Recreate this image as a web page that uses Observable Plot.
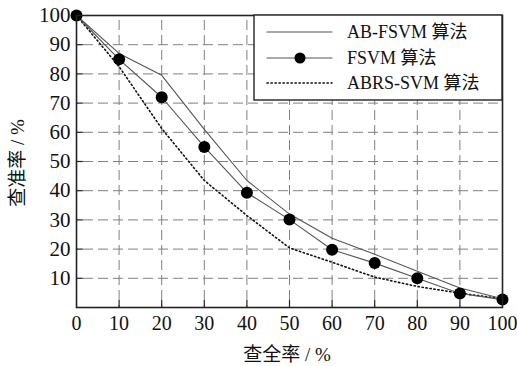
<!DOCTYPE html>
<html><head><meta charset="utf-8">
<script src="https://cdn.jsdelivr.net/npm/d3@7"></script>
<script src="https://cdn.jsdelivr.net/npm/@observablehq/plot@0.6"></script>
<style>body{margin:0;background:#fff}</style>
</head><body><div id="chart"></div>
<script>
const recall = [0, 10, 20, 30, 40, 50, 60, 70, 80, 90, 100];
const abfsvm = [100, 87, 79.5, 61, 43.5, 32, 23.7, 18.2, 12.4, 6.7, 3];
const fsvm = [100, 85, 72, 55, 39.3, 30.1, 19.8, 15.2, 10, 4.8, 2.7];
const abrs = [100, 82.5, 61.3, 43.5, 31.5, 20.4, 15.5, 10.4, 7.2, 4.9, 3];
const xTicks = [0, 10, 20, 30, 40, 50, 60, 70, 80, 90, 100];
const yTicks = [10, 20, 30, 40, 50, 60, 70, 80, 90, 100];
const seriesNames = ["AB-FSVM 算法", "FSVM 算法", "ABRS-SVM 算法"];
const xLabel = "查全率 / %";
const yLabel = "查准率 / %";

const toRows = (vals) => recall.map((x, i) => ({x, y: vals[i]}));
const rowsA = toRows(abfsvm), rowsF = toRows(fsvm), rowsR = toRows(abrs);
const gridX = xTicks.filter(v => v > 0 && v < 100);
const gridY = yTicks.filter(v => v > 0 && v < 100);
const FONT = "Liberation Serif, Times New Roman, DejaVu Serif, Noto Sans CJK SC, serif";

const W = 517, H = 366;
const chart = Plot.plot({
  width: W, height: H,
  marginLeft: 76, marginRight: 15, marginTop: 15, marginBottom: 59,
  style: {fontFamily: FONT, background: "#fff", color: "#111"},
  x: {domain: [0, 100]},
  y: {domain: [0, 100]},
  marks: [
    Plot.ruleX(gridX, {y1: 0, y2: 100, stroke: "#808080", strokeWidth: 1, strokeDasharray: "10,5", strokeDashoffset: -7}),
    Plot.ruleY(gridY, {x1: 0, x2: 100, stroke: "#808080", strokeWidth: 1, strokeDasharray: "10,5", strokeDashoffset: -7}),
    Plot.ruleX(gridX, {y1: 0, y2: 2.4, stroke: "#222", strokeWidth: 1.2}),
    Plot.ruleY(gridY, {x1: 0, x2: 1.6, stroke: "#222", strokeWidth: 1.2}),
    Plot.axisX({ticks: xTicks, tickSize: 0, tickPadding: 8, fontSize: 20, fontFamily: FONT, label: null}),
    Plot.axisY({ticks: yTicks, tickSize: 0, tickPadding: 6, fontSize: 21, fontFamily: FONT, label: null}),
    Plot.line(rowsR, {x: "x", y: "y", stroke: "#111", strokeWidth: 1.6, strokeDasharray: "1.3,2.7", strokeLinecap: "round"}),
    Plot.line(rowsA, {x: "x", y: "y", stroke: "#555", strokeWidth: 1.1}),
    Plot.line(rowsF, {x: "x", y: "y", stroke: "#555", strokeWidth: 1.1}),
    Plot.dot(rowsF, {x: "x", y: "y", r: 6, fill: "#000", stroke: "none"}),
    Plot.frame({stroke: "#222", strokeWidth: 1.6})
  ]
});
document.getElementById("chart").appendChild(chart);

const svg = d3.select(chart);
// axis titles
svg.append("text").attr("x", 287).attr("y", 361).attr("text-anchor", "middle")
  .style("font-family", FONT).attr("font-size", 19).attr("fill", "#111").text(xLabel);
svg.append("text").attr("transform", "translate(24,163) rotate(-90)").attr("text-anchor", "middle")
  .style("font-family", FONT).attr("font-size", 19).attr("fill", "#111").text(yLabel);

// legend
const lg = svg.append("g");
lg.append("rect").attr("x", 254).attr("y", 15).attr("width", 248).attr("height", 85)
  .attr("fill", "#fff").attr("stroke", "#222").attr("stroke-width", 1.4);
const rowsY = [32, 58, 83];
const styles = [
  {stroke: "#555", dash: null, dot: false, w: 1.1},
  {stroke: "#555", dash: null, dot: true, w: 1.1},
  {stroke: "#111", dash: "1.3,2.7", dot: false, w: 1.6}
];
seriesNames.forEach((name, i) => {
  const y = rowsY[i], s = styles[i];
  const ln = lg.append("line").attr("x1", 267).attr("x2", 332).attr("y1", y).attr("y2", y)
    .attr("stroke", s.stroke).attr("stroke-width", s.w).attr("stroke-linecap", "round");
  if (s.dash) ln.attr("stroke-dasharray", s.dash);
  if (s.dot) lg.append("circle").attr("cx", 300).attr("cy", y).attr("r", 5.5).attr("fill", "#000");
  lg.append("text").attr("x", 347).attr("y", y).attr("dy", "0.35em").attr("text-anchor", "start")
    .style("font-family", FONT).attr("font-size", 18).attr("fill", "#111").text(name);
});
</script>
</body></html>
